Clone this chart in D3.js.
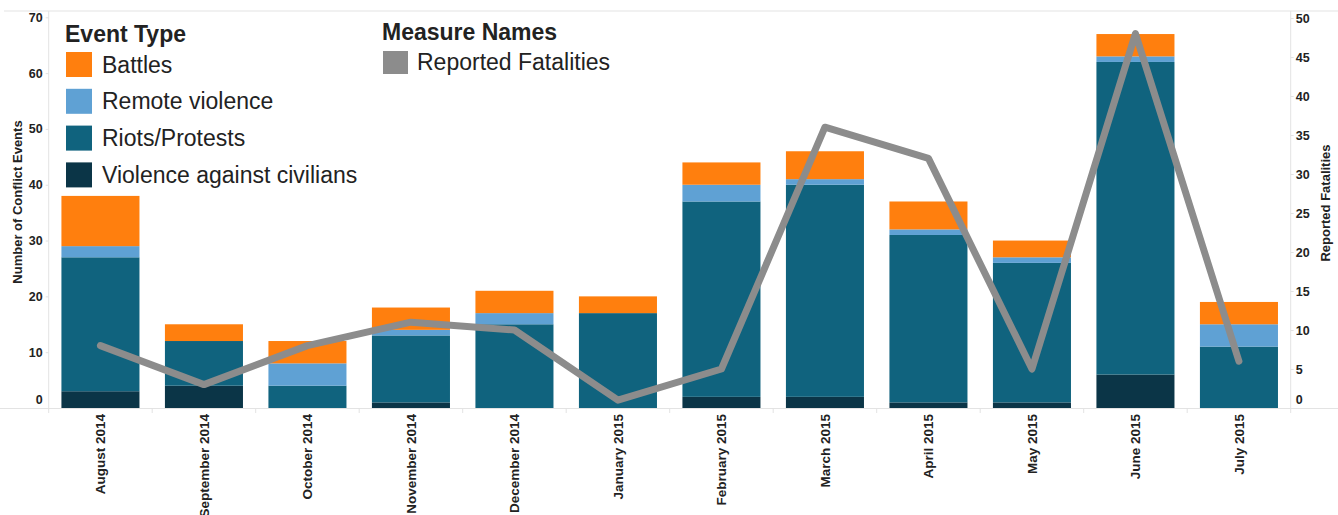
<!DOCTYPE html>
<html><head><meta charset="utf-8">
<script src="https://cdn.jsdelivr.net/npm/d3@7"></script>
<style>
html,body{margin:0;padding:0;background:#fff;}
svg{display:block;font-family:"Liberation Sans",Arial,sans-serif;}
</style></head>
<body><svg id="c" width="1338" height="515"></svg>
<script>
const months = ["August 2014","September 2014","October 2014","November 2014","December 2014","January 2015","February 2015","March 2015","April 2015","May 2015","June 2015","July 2015"];
const eventTypes = ["Violence against civilians","Riots/Protests","Remote violence","Battles"];
const violenceCivilians = [3,4,0,1,0,0,2,2,1,1,6,0];
const riotsProtests   = [24,8,4,12,15,17,35,38,30,25,56,11];
const remoteViolence  = [2,0,4,1,2,0,3,1,1,1,1,4];
const battles         = [9,3,4,4,4,3,4,5,5,3,4,4];
const fatalities      = [8,3,8,11,10,1,5,36,32,5,48,6];
const leftTicks  = [0,10,20,30,40,50,60,70];
const rightTicks = [0,5,10,15,20,25,30,35,40,45,50];
const legendOrder = ["Battles","Remote violence","Riots/Protests","Violence against civilians"];
const colors = {"Battles":"#ff7f0e","Remote violence":"#5fa1d4","Riots/Protests":"#10637e","Violence against civilians":"#0b3547"};
const lineColor = "#8c8c8c";

const svg = d3.select("#c");
const L = 48.7, R = 1290.7, T = 17.3, B = 408;

const x = d3.scaleBand().domain(months).range([L, R]).padding(0);
const yL = d3.scaleLinear().domain([0,70]).range([B, T]);
const yR = d3.scaleLinear().domain([0,50]).range([B, 18]);
const gridC = "#e3e3e3";

// frame lines
svg.append("line").attr("x1",4).attr("x2",1338).attr("y1",11).attr("y2",11).attr("stroke",gridC);
svg.append("line").attr("x1",0).attr("x2",1338).attr("y1",B+0.5).attr("y2",B+0.5).attr("stroke",gridC);
svg.append("line").attr("x1",L).attr("x2",L).attr("y1",11).attr("y2",B+5).attr("stroke",gridC);
svg.append("line").attr("x1",R).attr("x2",R).attr("y1",11).attr("y2",B+5).attr("stroke",gridC);
// band separator ticks at bottom
svg.append("g").selectAll("line").data(months.slice(1)).join("line")
  .attr("x1",d=>x(d)).attr("x2",d=>x(d)).attr("y1",B).attr("y2",B+5).attr("stroke",gridC);

// stacked bars
const rows = months.map((m,i)=>({month:m,
  "Violence against civilians":violenceCivilians[i],
  "Riots/Protests":riotsProtests[i],
  "Remote violence":remoteViolence[i],
  "Battles":battles[i]}));
const series = d3.stack().keys(eventTypes)(rows);
const bw = x.bandwidth()*0.754;
svg.append("g").selectAll("g").data(series).join("g")
  .attr("fill",d=>colors[d.key])
  .selectAll("rect").data(d=>d).join("rect")
  .attr("x",d=>x(d.data.month)+(x.bandwidth()-bw)/2)
  .attr("width",bw)
  .attr("y",d=>yL(d[1]))
  .attr("height",d=>yL(d[0])-yL(d[1]));

// line
const line = d3.line().x((d,i)=>x(months[i])+x.bandwidth()/2).y(d=>yR(d));
svg.append("path").datum(fatalities).attr("d",line)
  .attr("fill","none").attr("stroke",lineColor).attr("stroke-width",7)
  .attr("stroke-linejoin","round").attr("stroke-linecap","round");

// left axis
const axL = svg.append("g").attr("transform",`translate(${L},0)`)
  .call(d3.axisLeft(yL).tickValues(leftTicks).tickSize(3).tickPadding(3));
axL.select(".domain").remove();
axL.selectAll(".tick line").attr("stroke",gridC);
axL.selectAll(".tick text").attr("font-size",12.5).attr("font-weight","bold").attr("fill","#222")
  .attr("font-family","'Liberation Sans',Arial,sans-serif")
  .attr("dy",d=>d===0?"-0.4em":"0.32em");
// right axis
const axR = svg.append("g").attr("transform",`translate(${R},0)`)
  .call(d3.axisRight(yR).tickValues(rightTicks).tickSize(3).tickPadding(2));
axR.select(".domain").remove();
axR.selectAll(".tick line").attr("stroke",gridC);
axR.selectAll(".tick text").attr("font-size",12.5).attr("font-weight","bold").attr("fill","#222")
  .attr("font-family","'Liberation Sans',Arial,sans-serif")
  .attr("dy",d=>d===0?"-0.4em":"0.32em");

// axis titles
svg.append("text").attr("transform","translate(17,202) rotate(-90)").attr("text-anchor","middle")
  .attr("dy","0.35em").attr("font-size",13).attr("font-weight","bold").attr("fill","#222").text("Number of Conflict Events");
svg.append("text").attr("transform","translate(1325,203) rotate(-90)").attr("text-anchor","middle")
  .attr("dy","0.35em").attr("font-size",13).attr("font-weight","bold").attr("fill","#222").text("Reported Fatalities");

// x labels
svg.append("g").selectAll("text").data(months).join("text")
  .attr("transform",d=>`translate(${x(d)+x.bandwidth()/2},414) rotate(-90)`)
  .attr("text-anchor","end").attr("dy","0.35em")
  .attr("font-size",13.5).attr("font-weight","bold").attr("fill","#222").text(d=>d);

// legend: Event Type
const lg = svg.append("g");
lg.append("text").attr("x",65).attr("y",42).attr("font-size",23).attr("font-weight","bold").attr("fill","#222").text("Event Type");
const li = lg.selectAll("g.it").data(legendOrder).join("g").attr("class","it")
  .attr("transform",(d,i)=>`translate(66,${52+i*36.8})`);
li.append("rect").attr("width",26).attr("height",25).attr("fill",d=>colors[d]);
li.append("text").attr("x",36).attr("y",20.5).attr("font-size",23).attr("fill","#222").text(d=>d);

// legend: Measure Names
const lm = svg.append("g");
lm.append("text").attr("x",382).attr("y",40).attr("font-size",23).attr("font-weight","bold").attr("fill","#222").text("Measure Names");
lm.append("rect").attr("x",383).attr("y",51).attr("width",25).attr("height",23).attr("fill",lineColor);
lm.append("text").attr("x",417).attr("y",70).attr("font-size",23).attr("fill","#222").text("Reported Fatalities");
</script></body></html>
